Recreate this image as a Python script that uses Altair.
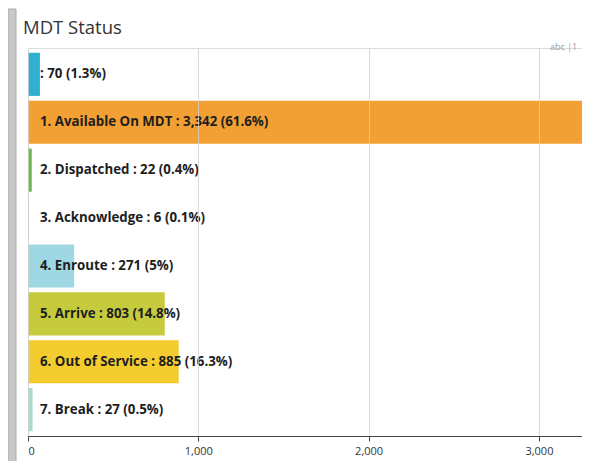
import altair as alt
import pandas as pd

categories = ["", "1. Available On MDT", "2. Dispatched", "3. Acknowledge",
              "4. Enroute", "5. Arrive", "6. Out of Service", "7. Break"]
values = [70, 3342, 22, 6, 271, 803, 885, 27]
colors = ["#31afd0", "#f2a033", "#6cb84f", "#f0b89a",
          "#9fd8e2", "#c5cb3d", "#f3cd2f", "#a6dccc"]
x_ticks = [0, 1000, 2000, 3000]
title_text = ["MDT Status"]

total = sum(values)


def pct(v):
    p = round(v / total * 100, 1)
    s = f"{p:.1f}"
    if s.endswith(".0"):
        s = s[:-2]
    return s + "%"


df = pd.DataFrame({
    "idx": list(range(len(categories))),
    "category": categories,
    "value": values,
    "color": colors,
})
df["label"] = [f"{c} : {v:,} ({pct(v)})".lstrip() for c, v in zip(categories, values)]

y_enc = alt.Y("idx:O", axis=None,
              scale=alt.Scale(paddingInner=0.1, paddingOuter=0.1))

bars = alt.Chart(df).mark_bar(clip=True).encode(
    x=alt.X("value:Q",
            scale=alt.Scale(domain=[0, 3253], nice=False, zero=True),
            axis=alt.Axis(values=x_ticks, format=",d", title=None,
                          labelFont="Open Sans", labelFontSize=11,
                          labelColor="#333", domainColor="#444",
                          tickColor="#444", tickSize=5,
                          gridColor="#cfcfcf", gridOpacity=0.8,
                          labelPadding=4, zindex=1)),
    y=y_enc,
    color=alt.Color("color:N", scale=None),
)

labels = alt.Chart(df).mark_text(
    align="left", baseline="middle", font="Open Sans", fontWeight="bold",
    fontSize=13.3, color="#1e1e1e"
).encode(
    x=alt.value(12),
    y=y_enc,
    text="label:N",
)

frame = alt.Chart(pd.DataFrame({"k": [0]})).mark_rect(
    color="#c8c8c8", stroke="#aaaaaa", strokeWidth=1
).encode(
    x=alt.value(-20), x2=alt.value(-12),
    y=alt.value(-39), y2=alt.value(430),
)

badge = alt.Chart(pd.DataFrame({"t": ["abc |1"]})).mark_text(
    align="left", baseline="middle", font="Open Sans", fontSize=9,
    color="#999"
).encode(x=alt.value(522), y=alt.value(-1), text="t:N")

title = alt.Chart(pd.DataFrame({"t": title_text})).mark_text(
    align="left", baseline="alphabetic", font="Open Sans", fontSize=18.5,
    color="#333"
).encode(x=alt.value(-5), y=alt.value(-14), text="t:N")

chart = alt.layer(frame, bars, labels, badge, title).properties(
    width=554, height=388,
    padding={"left": 20, "top": 40, "right": 0, "bottom": 25},
    autosize=alt.AutoSizeParams(type="none"),
).configure_view(stroke=None).configure(background="white")

chart.save("out.html", embed_options={"renderer": "svg", "actions": False})
